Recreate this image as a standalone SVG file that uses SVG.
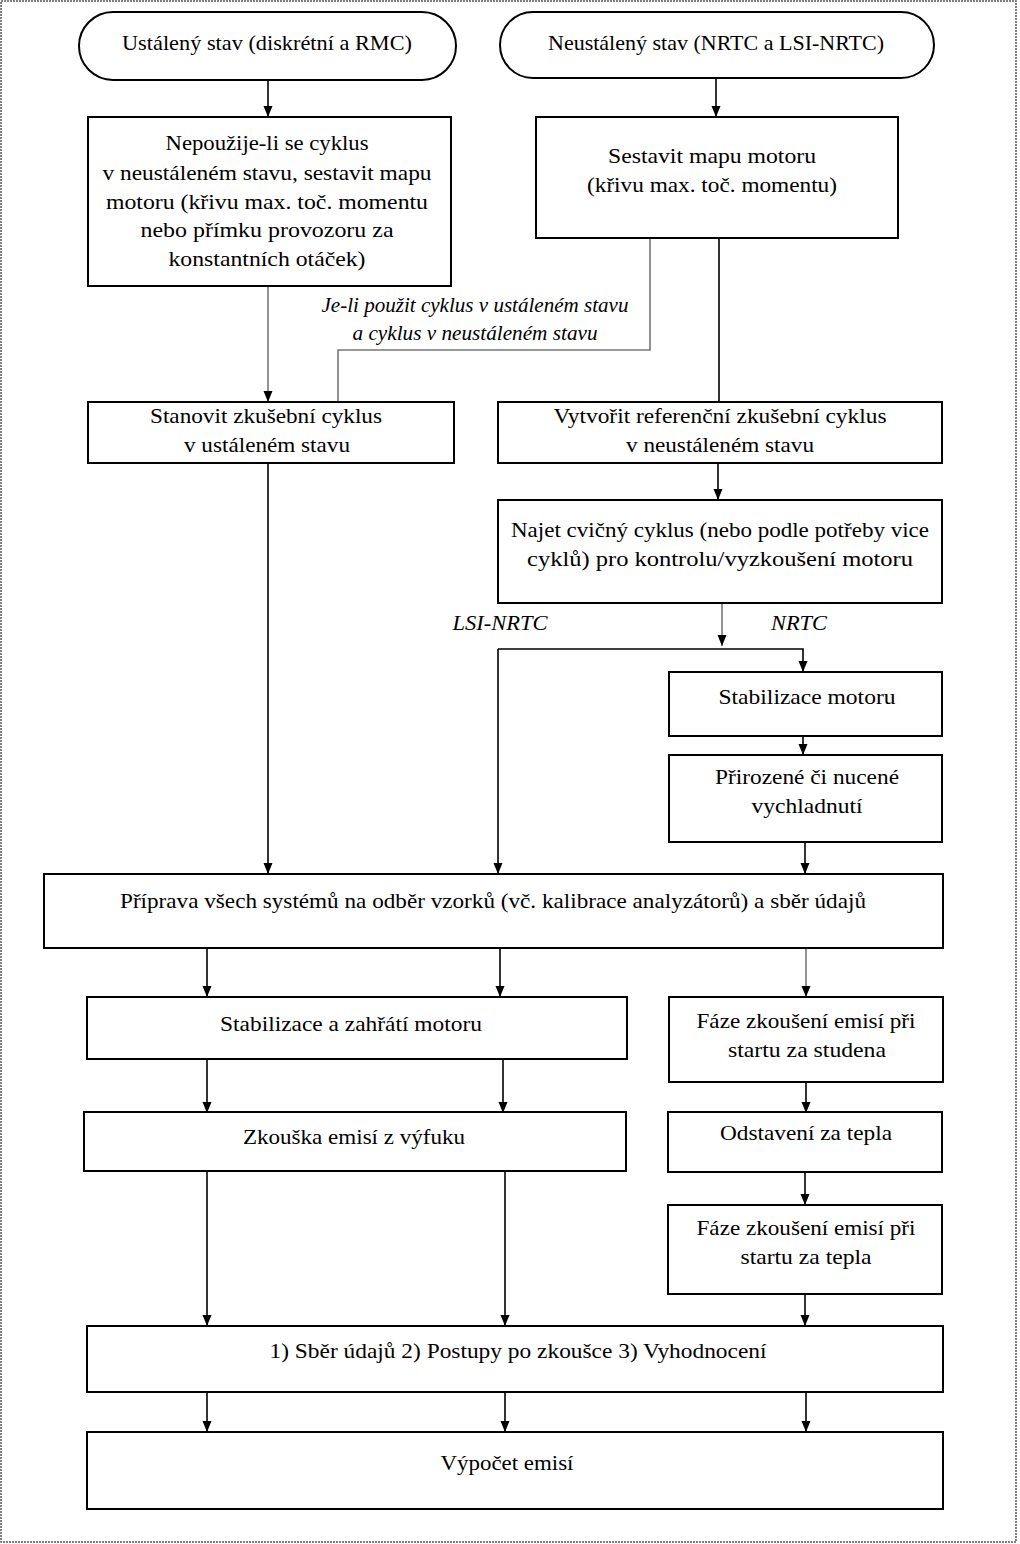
<svg xmlns="http://www.w3.org/2000/svg" width="1020" height="1544" viewBox="0 0 1020 1544">
<style>
.b{fill:#fff;stroke:#000;stroke-width:2}
.t{font-family:"Liberation Serif","Times New Roman",serif;font-size:22px;fill:#000;text-anchor:middle}
.i{font-style:italic}
.c{fill:none;stroke:#000;stroke-width:1.6}
.g{stroke:#777}
</style>
<defs>
<marker id="a" markerUnits="userSpaceOnUse" markerWidth="12" markerHeight="10" refX="11" refY="5" orient="auto" viewBox="0 0 12 10">
<path d="M0,0.5 L11,5 L0,9.5 Z" fill="#000"/>
</marker>
</defs>
<rect x="1" y="1" width="1015" height="1541" fill="#fff" stroke="#555" stroke-width="1.5" stroke-dasharray="2 1"/>

<g id="connectors">
<path class="c" d="M268,80 V117" marker-end="url(#a)"/>
<path class="c" d="M716,78 V117" marker-end="url(#a)"/>
<path class="c g" d="M268,286 V402" marker-end="url(#a)"/>
<path class="c g" d="M650,238 V350 H338 V402"/>
<path class="c" d="M719,238 V402"/>
<path class="c" d="M268,463 V874" marker-end="url(#a)"/>
<path class="c" d="M718,463 V500" marker-end="url(#a)"/>
<path class="c g" d="M722,603 V646" marker-end="url(#a)"/>
<path class="c" d="M498,649 H803 V672" marker-end="url(#a)"/>
<path class="c" d="M498,649 V874" marker-end="url(#a)"/>
<path class="c" d="M803,736 V755" marker-end="url(#a)"/>
<path class="c" d="M805,842 V874" marker-end="url(#a)"/>
<path class="c" d="M207,948 V997" marker-end="url(#a)"/>
<path class="c" d="M500,948 V997" marker-end="url(#a)"/>
<path class="c g" d="M806,948 V997" marker-end="url(#a)"/>
<path class="c" d="M207,1059 V1113" marker-end="url(#a)"/>
<path class="c" d="M503,1059 V1113" marker-end="url(#a)"/>
<path class="c" d="M806,1082 V1113" marker-end="url(#a)"/>
<path class="c" d="M805,1172 V1205" marker-end="url(#a)"/>
<path class="c" d="M207,1171 V1326" marker-end="url(#a)"/>
<path class="c" d="M505,1171 V1326" marker-end="url(#a)"/>
<path class="c" d="M805,1294 V1326" marker-end="url(#a)"/>
<path class="c" d="M207,1392 V1432" marker-end="url(#a)"/>
<path class="c" d="M505,1392 V1432" marker-end="url(#a)"/>
<path class="c" d="M806,1392 V1432" marker-end="url(#a)"/>
</g>

<g id="labels">
<text class="t i" x="475" y="312" textLength="307" lengthAdjust="spacingAndGlyphs">Je-li použit cyklus v ustáleném stavu</text>
<text class="t i" x="475" y="340" textLength="245" lengthAdjust="spacingAndGlyphs">a cyklus v neustáleném stavu</text>
<text class="t i" x="500" y="630" textLength="95" lengthAdjust="spacingAndGlyphs">LSI-NRTC</text>
<text class="t i" x="799" y="630" textLength="56" lengthAdjust="spacingAndGlyphs">NRTC</text>
</g>

<g id="n1">
<rect class="b" x="79" y="12" width="377" height="68" rx="34" ry="34"/>
<text class="t" x="267" y="50" textLength="290" lengthAdjust="spacingAndGlyphs">Ustálený stav (diskrétní a RMC)</text>
</g>
<g id="n2">
<rect class="b" x="500" y="12" width="434" height="66" rx="33" ry="33"/>
<text class="t" x="716" y="50" textLength="336" lengthAdjust="spacingAndGlyphs">Neustálený stav (NRTC a LSI-NRTC)</text>
</g>
<g id="n3">
<rect class="b" x="88" y="117" width="363" height="169"/>
<text class="t" x="267" y="150" textLength="203" lengthAdjust="spacingAndGlyphs">Nepoužije-li se cyklus</text>
<text class="t" x="267" y="180" textLength="329" lengthAdjust="spacingAndGlyphs">v neustáleném stavu, sestavit mapu</text>
<text class="t" x="267" y="209" textLength="322" lengthAdjust="spacingAndGlyphs">motoru (křivu max. toč. momentu</text>
<text class="t" x="267" y="237" textLength="253" lengthAdjust="spacingAndGlyphs">nebo přímku provozoru za</text>
<text class="t" x="267" y="266" textLength="197" lengthAdjust="spacingAndGlyphs">konstantních otáček)</text>
</g>
<g id="n4">
<rect class="b" x="536" y="117" width="362" height="121"/>
<text class="t" x="712" y="163" textLength="208" lengthAdjust="spacingAndGlyphs">Sestavit mapu motoru</text>
<text class="t" x="712" y="192" textLength="250" lengthAdjust="spacingAndGlyphs">(křivu max. toč. momentu)</text>
</g>
<g id="n5">
<rect class="b" x="88" y="402" width="366" height="61"/>
<text class="t" x="266" y="423" textLength="232" lengthAdjust="spacingAndGlyphs">Stanovit zkušební cyklus</text>
<text class="t" x="267" y="452" textLength="166" lengthAdjust="spacingAndGlyphs">v ustáleném stavu</text>
</g>
<g id="n6">
<rect class="b" x="498" y="402" width="444" height="61"/>
<text class="t" x="720" y="423" textLength="333" lengthAdjust="spacingAndGlyphs">Vytvořit referenční zkušební cyklus</text>
<text class="t" x="720" y="452" textLength="188" lengthAdjust="spacingAndGlyphs">v neustáleném stavu</text>
</g>
<g id="n7">
<rect class="b" x="498" y="500" width="444" height="103"/>
<text class="t" x="720" y="537" textLength="418" lengthAdjust="spacingAndGlyphs">Najet cvičný cyklus (nebo podle potřeby vice</text>
<text class="t" x="720" y="566" textLength="386" lengthAdjust="spacingAndGlyphs">cyklů) pro kontrolu/vyzkoušení motoru</text>
</g>
<g id="n8">
<rect class="b" x="669" y="672" width="273" height="64"/>
<text class="t" x="807" y="704" textLength="177" lengthAdjust="spacingAndGlyphs">Stabilizace motoru</text>
</g>
<g id="n9">
<rect class="b" x="669" y="755" width="273" height="87"/>
<text class="t" x="807" y="784" textLength="184" lengthAdjust="spacingAndGlyphs">Přirozené či nucené</text>
<text class="t" x="807" y="813" textLength="111" lengthAdjust="spacingAndGlyphs">vychladnutí</text>
</g>
<g id="n10">
<rect class="b" x="44" y="874" width="899" height="74"/>
<text class="t" x="493" y="908" textLength="746" lengthAdjust="spacingAndGlyphs">Příprava všech systémů na odběr vzorků (vč. kalibrace analyzátorů) a sběr údajů</text>
</g>
<g id="n11">
<rect class="b" x="87" y="997" width="540" height="62"/>
<text class="t" x="351" y="1031" textLength="262" lengthAdjust="spacingAndGlyphs">Stabilizace a zahřátí motoru</text>
</g>
<g id="n12">
<rect class="b" x="669" y="997" width="274" height="85"/>
<text class="t" x="806" y="1028" textLength="219" lengthAdjust="spacingAndGlyphs">Fáze zkoušení emisí při</text>
<text class="t" x="807" y="1057" textLength="158" lengthAdjust="spacingAndGlyphs">startu za studena</text>
</g>
<g id="n13">
<rect class="b" x="84" y="1112" width="542" height="59"/>
<text class="t" x="354" y="1144" textLength="222" lengthAdjust="spacingAndGlyphs">Zkouška emisí z výfuku</text>
</g>
<g id="n14">
<rect class="b" x="668" y="1112" width="274" height="60"/>
<text class="t" x="806" y="1140" textLength="172" lengthAdjust="spacingAndGlyphs">Odstavení za tepla</text>
</g>
<g id="n15">
<rect class="b" x="668" y="1205" width="274" height="89"/>
<text class="t" x="806" y="1235" textLength="219" lengthAdjust="spacingAndGlyphs">Fáze zkoušení emisí při</text>
<text class="t" x="806" y="1264" textLength="131" lengthAdjust="spacingAndGlyphs">startu za tepla</text>
</g>
<g id="n16">
<rect class="b" x="87" y="1326" width="856" height="66"/>
<text class="t" x="518" y="1358" textLength="497" lengthAdjust="spacingAndGlyphs">1) Sběr údajů 2) Postupy po zkoušce 3) Vyhodnocení</text>
</g>
<g id="n17">
<rect class="b" x="87" y="1432" width="856" height="77"/>
<text class="t" x="507" y="1470" textLength="133" lengthAdjust="spacingAndGlyphs">Výpočet emisí</text>
</g>
</svg>
